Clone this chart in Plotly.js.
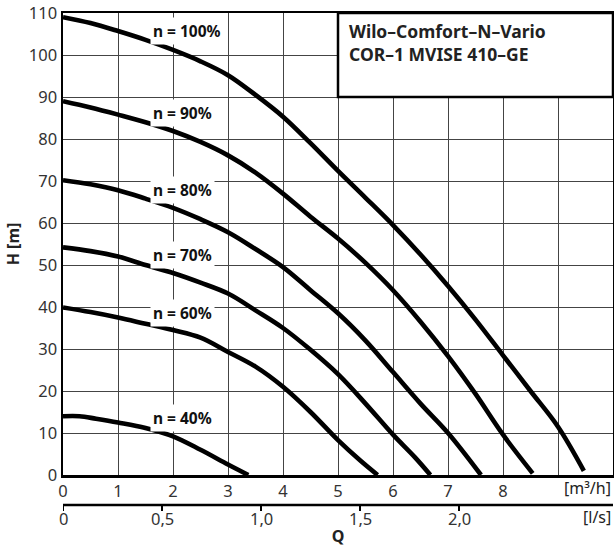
<!DOCTYPE html>
<html>
<head>
<meta charset="utf-8">
<script src="https://cdn.plot.ly/plotly-3.0.1.min.js"></script>
<style>html,body{margin:0;padding:0;background:#fff;}#chart{width:614px;height:548px;}</style>
</head>
<body>
<div id="chart"></div>
<script>
// Flow Q [m³/h] and head H [m], per speed
const q100 = [0, 0.5, 1, 1.5, 2, 2.5, 3, 3.5, 4, 4.5, 5, 5.5, 6, 6.5, 7, 7.5, 8, 8.5, 9, 9.47];
const h100 = [109, 107.6, 105.7, 103.6, 101.2, 98.5, 95.2, 90.5, 85.3, 79, 72.4, 66, 59.5, 52.5, 45, 37, 28.5, 20, 11.5, 1];
const q90 = [0, 0.5, 1, 1.5, 2, 2.5, 3, 3.5, 4, 4.5, 5, 5.5, 6, 6.5, 7, 7.5, 8, 8.54];
const h90 = [89, 87.5, 85.8, 84, 81.9, 79.3, 76.1, 72, 67, 61.5, 56.3, 50.5, 44, 36.5, 28.3, 19.3, 9.6, 0.4];
const q80 = [0, 0.5, 1, 1.5, 2, 2.5, 3, 3.5, 4, 4.5, 5, 5.5, 6, 6.5, 7, 7.6];
const h80 = [70.2, 69.2, 67.8, 65.8, 63.6, 60.9, 57.8, 53.8, 49.5, 44, 38.5, 32, 24.5, 17, 10, 0];
const q70 = [0, 0.5, 1, 1.5, 2, 2.5, 3, 3.5, 4, 4.5, 5, 5.5, 6, 6.4, 6.68];
const h70 = [54.2, 53.3, 52, 50, 48.1, 45.8, 43.2, 39.2, 35, 29.8, 24, 17, 9.6, 4.2, 0];
const q60 = [0, 0.5, 1, 1.5, 2, 2.5, 3, 3.5, 4, 4.5, 5, 5.4, 5.72];
const h60 = [39.9, 38.8, 37.5, 36, 34.5, 32.7, 29.3, 25.8, 21, 15, 8.3, 3.5, 0];
const q40 = [0, 0.3, 0.6, 1, 1.5, 2, 2.5, 3, 3.37];
const h40 = [14, 14, 13.4, 12.5, 11.2, 9.2, 6, 2.5, 0];

const speedLabels = ['n = 100%', 'n = 90%', 'n = 80%', 'n = 70%', 'n = 60%', 'n = 40%'];
const labelQ = [1.58, 1.58, 1.58, 1.58, 1.58, 1.58];
const labelH = [105.7, 86.2, 67.9, 52.4, 38.6, 13.6];

const qTicks = [0, 1, 2, 3, 4, 5, 6, 7, 8, 9];
const qTickText = ['0', '1', '2', '3', '4', '5', '6', '7', '8', ''];
const lsTicks = [0, 0.5, 1, 1.5, 2];
const lsTickText = ['0', '0,5', '1,0', '1,5', '2,0'];
const hTicks = [0, 10, 20, 30, 40, 50, 60, 70, 80, 90, 100, 110];
const titleLines = ['Wilo–Comfort–N–Vario', 'COR–1 MVISE 410–GE'];
const M3H_PER_LS = 3.6; // unit conversion l/s -> m³/h

const FONT = 'Noto Sans, Open Sans, DejaVu Sans, sans-serif';
const series = [[q100, h100], [q90, h90], [q80, h80], [q70, h70], [q60, h60], [q40, h40]];
const traces = series.map((s, i) => ({
  x: s[0], y: s[1], type: 'scatter', mode: 'lines', name: speedLabels[i],
  line: {color: '#000', width: 4.6, shape: 'spline', smoothing: 1},
  hoverinfo: 'x+y', showlegend: false
}));

const plotH = 548 - 13 - 73;
const py = px => (475 - px) / plotH; // pixel row below plot -> paper y

const annotations = speedLabels.map((t, i) => ({
  x: labelQ[i], y: labelH[i], xref: 'x', yref: 'y', text: t, showarrow: false,
  xanchor: 'left', yanchor: 'middle', bgcolor: '#fff', borderpad: 2,
  font: {family: FONT, size: 15.5, color: '#111', weight: 'bold'}
}));
annotations.push({x: 5.16, y: 105.6, xref: 'x', yref: 'y', text: titleLines[0], showarrow: false,
  xanchor: 'left', yanchor: 'middle', font: {family: FONT, size: 17.5, color: '#222', weight: 'bold'}});
annotations.push({x: 5.16, y: 100.3, xref: 'x', yref: 'y', text: titleLines[1], showarrow: false,
  xanchor: 'left', yanchor: 'middle', font: {family: FONT, size: 17.5, color: '#222', weight: 'bold'}});
annotations.push({x: 1, y: py(488), xref: 'paper', yref: 'paper', text: '[m³/h]', showarrow: false,
  xanchor: 'right', yanchor: 'middle', font: {family: FONT, size: 16, color: '#222'}});
annotations.push({x: 1, y: py(517), xref: 'paper', yref: 'paper', text: '[l/s]', showarrow: false,
  xanchor: 'right', yanchor: 'middle', font: {family: FONT, size: 16, color: '#222'}});
// secondary flow scale in l/s, placed on the m³/h axis scale
lsTicks.forEach((v, i) => annotations.push({x: v * M3H_PER_LS, y: py(518), xref: 'x', yref: 'paper',
  text: lsTickText[i], showarrow: false, xanchor: 'center', yanchor: 'middle',
  font: {family: FONT, size: 16.5, color: '#333'}}));

const shapes = [];
shapes.push({type: 'line', xref: 'x', yref: 'paper', x0: 0, x1: 10, y0: py(505), y1: py(505),
  line: {color: '#000', width: 2.5}});
lsTicks.forEach(v => shapes.push({type: 'line', xref: 'x', yref: 'paper',
  x0: v * M3H_PER_LS, x1: v * M3H_PER_LS, y0: py(505), y1: py(511), line: {color: '#000', width: 2}}));
shapes.push({type: 'rect', xref: 'x', yref: 'y', x0: 5, x1: 10, y0: 90, y1: 110,
  fillcolor: '#fff', line: {color: '#000', width: 2.5}, layer: 'above'});

const layout = {
  width: 614, height: 548,
  margin: {l: 63, r: 1, t: 13, b: 73},
  paper_bgcolor: '#fff', plot_bgcolor: '#fff',
  showlegend: false,
  xaxis: {
    range: [0, 10], tickvals: qTicks, ticktext: qTickText, ticks: '',
    showgrid: true, gridcolor: '#444444', gridwidth: 1, zeroline: false,
    showline: true, linecolor: '#000', linewidth: 2.5, mirror: true,
    tickfont: {family: FONT, size: 16.5, color: '#333'},
    title: {text: 'Q', standoff: 30, font: {family: FONT, size: 16, color: '#222', weight: 'bold'}}
  },
  yaxis: {
    range: [0, 110], tickvals: hTicks, ticks: '',
    showgrid: true, gridcolor: '#444444', gridwidth: 1, zeroline: false,
    showline: true, linecolor: '#000', linewidth: 2.5, mirror: true,
    tickfont: {family: FONT, size: 16.5, color: '#333'},
    title: {text: 'H [m]', standoff: 6, font: {family: FONT, size: 16, color: '#222', weight: 'bold'}}
  },
  shapes: shapes,
  annotations: annotations
};

Plotly.newPlot('chart', traces, layout, {displayModeBar: false, staticPlot: true});
</script>
</body>
</html>
